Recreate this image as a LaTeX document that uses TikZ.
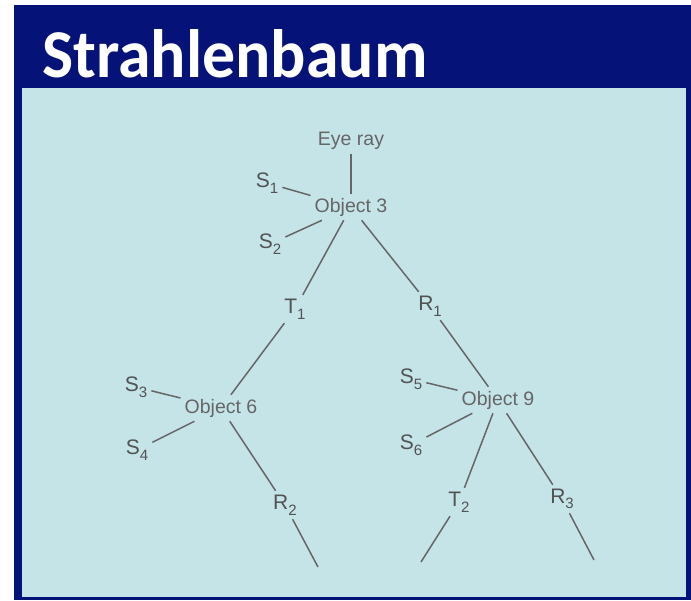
\documentclass[tikz,border=0pt]{standalone}
\usepackage{fontspec}
\setmainfont{Liberation Sans}
\newfontfamily\titlefont{Carlito}
\newcommand{\rayLabel}[2]{#1\raisebox{-0.5ex}{\fontsize{15}{15}\selectfont #2}}

\begin{document}
\begin{tikzpicture}[x=1pt, y=-1pt]
    % Define colours
    \definecolor{frameColour}{HTML}{051278}
    \definecolor{panelColour}{HTML}{C5E4E8}
    \definecolor{inkColour}{HTML}{666666}

    % Define styles
    \tikzset{
        objnode/.style={text=inkColour, font=\fontsize{19.5}{19.5}\selectfont, inner sep=4pt},
        raynode/.style={text=inkColour!80!black, font=\fontsize{21}{21}\selectfont, inner sep=4pt},
        rayline/.style={draw=inkColour, line width=1.5pt}
    }

    % Frame and panel
    \useasboundingbox (0,0) rectangle (691,600);
    \fill[frameColour] (14,5) rectangle (691,600);
    \fill[panelColour] (22,88) rectangle (686,597);

    % Title
    \node[anchor=base west, text=white, inner sep=0pt,
          font=\titlefont\bfseries] (title) at (42,77) {\resizebox{385pt}{48pt}{Strahlenbaum}};

    % Objects hit by the rays
    \node[objnode] (eye) at (351,141) {Eye ray};
    \node[objnode] (o3) at (351,207) {Object 3};
    \node[objnode] (o6) at (221,408) {Object 6};
    \node[objnode] (o9) at (498,400) {Object 9};

    % Shadow, transmitted and reflected rays
    \node[raynode] (s1) at (267,183) {\rayLabel{S}{1}};
    \node[raynode] (s2) at (270,244) {\rayLabel{S}{2}};
    \node[raynode] (t1) at (295,309) {\rayLabel{T}{1}};
    \node[raynode] (r1) at (430,306) {\rayLabel{R}{1}};
    \node[raynode] (s3) at (136,387) {\rayLabel{S}{3}};
    \node[raynode] (s4) at (137,450) {\rayLabel{S}{4}};
    \node[raynode] (s5) at (411,379) {\rayLabel{S}{5}};
    \node[raynode] (s6) at (411,445) {\rayLabel{S}{6}};
    \node[raynode] (r2) at (285,505) {\rayLabel{R}{2}};
    \node[raynode] (t2) at (459,502) {\rayLabel{T}{2}};
    \node[raynode] (r3) at (562,499) {\rayLabel{R}{3}};

    % Loose ends of the tree
    \coordinate (e1) at (318,567);
    \coordinate (e2) at (421,562);
    \coordinate (e3) at (594,560);

    % Draw branches
    \draw[rayline] (eye) -- (o3);
    \draw[rayline] (s1) -- (o3);
    \draw[rayline] (s2) -- (o3);
    \draw[rayline] (o3) -- (t1);
    \draw[rayline] (o3) -- (r1);
    \draw[rayline] (t1) -- (o6);
    \draw[rayline] (r1) -- (o9);
    \draw[rayline] (s3) -- (o6);
    \draw[rayline] (s4) -- (o6);
    \draw[rayline] (s5) -- (o9);
    \draw[rayline] (s6) -- (o9);
    \draw[rayline] (o6) -- (r2);
    \draw[rayline] (o9) -- (t2);
    \draw[rayline] (o9) -- (r3);
    \draw[rayline] (r2) -- (e1);
    \draw[rayline] (t2) -- (e2);
    \draw[rayline] (r3) -- (e3);

\end{tikzpicture}
\end{document}
